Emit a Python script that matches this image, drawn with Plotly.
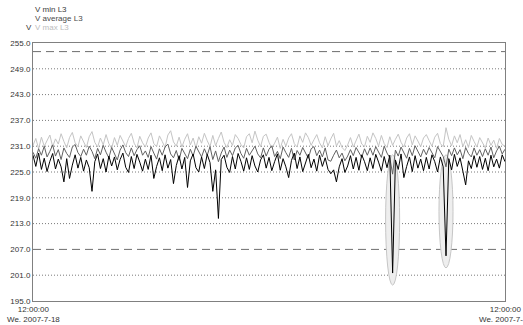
import pandas as pd
import plotly.graph_objects as go

# ---------------- data ----------------
start_time = "2007-07-18 12:00:00"
n_hours = 169
times = pd.date_range(start_time, periods=n_hours, freq="h")

v_max = [
    231.2, 232.8, 230.4, 233.1, 231.0, 232.5, 233.6, 230.9, 232.7, 231.5, 233.9, 232.1, 230.6, 233.0, 234.2, 231.8, 230.9, 233.4, 232.0, 230.7,
    233.2, 234.4, 231.9, 230.8, 232.9, 231.3, 233.7, 231.6, 230.5, 233.0, 231.2, 233.5, 232.2, 230.9, 232.8, 234.0, 231.7, 230.6, 233.3, 231.8,
    230.8, 232.9, 234.1, 231.6, 230.9, 233.4, 232.1, 230.7, 233.6, 234.6, 232.0, 231.0, 233.1, 230.8, 232.6, 233.9, 231.3, 232.9, 230.6, 233.2,
    231.7, 234.0, 232.3, 230.9, 233.5, 231.1, 232.8, 234.3, 231.9, 230.7, 232.5, 231.2, 233.7, 232.8, 231.4, 230.6, 233.2, 233.9, 231.8, 234.5,
    232.4, 230.9, 233.3, 233.8, 231.9, 230.6, 231.7, 233.1, 230.5, 232.6, 231.0, 232.9, 233.9, 231.6, 230.8, 233.4, 231.9, 234.1, 233.0, 231.2,
    232.5, 233.7, 231.8, 230.6, 233.2, 231.1, 232.7, 234.0, 231.0, 232.3, 230.7, 230.0, 231.3, 233.0, 230.8, 232.4, 233.8, 231.5, 230.9, 233.3,
    231.9, 234.1, 232.8, 231.0, 233.5, 231.6, 230.7, 233.2, 231.2, 232.6, 233.8, 231.9, 230.8, 232.9, 233.9, 231.3, 233.4, 232.2, 230.9, 232.9,
    233.7, 232.3, 231.0, 233.1, 234.0, 231.6, 230.9, 235.3, 232.6, 231.1, 233.4, 231.8, 233.7, 230.9, 232.5, 230.7, 233.5, 232.1, 230.8, 233.0,
    231.6, 230.6, 232.9, 231.2, 232.4, 230.5, 232.8, 231.4, 231.0,
]

v_avg = [
    229.6, 228.2, 230.4, 228.9, 231.0, 228.5, 229.8, 231.3, 228.7, 230.2, 227.9, 230.6, 229.3, 228.4, 230.8, 231.4, 229.5, 228.6, 230.3, 228.9,
    231.0, 229.8, 228.1, 230.5, 229.0, 231.2, 229.6, 228.3, 230.7, 229.2, 227.8, 230.1, 231.3, 229.5, 228.6, 230.6, 228.8, 230.2, 231.1, 228.9,
    229.9, 228.4, 230.9, 229.4, 228.0, 230.4, 228.9, 230.8, 231.5, 229.2, 228.3, 230.0, 227.7, 230.5, 229.3, 228.1, 230.3, 228.7, 231.0, 229.6,
    228.5, 230.4, 228.9, 230.9, 227.9, 229.9, 227.4, 229.4, 230.8, 228.4, 230.1, 228.8, 230.6, 231.2, 229.3, 228.2, 230.5, 228.9, 230.0, 231.0,
    229.2, 228.3, 230.6, 228.7, 230.3, 231.1, 228.6, 229.8, 228.1, 230.8, 229.5, 228.4, 230.5, 227.8, 230.0, 228.9, 230.7, 229.3, 228.2, 230.4,
    230.9, 228.8, 230.1, 228.5, 230.6, 227.8, 227.5, 228.9, 230.1, 228.3, 229.4, 227.6, 228.7, 230.2, 228.8, 230.7, 229.7, 228.4, 230.4, 228.9,
    230.6, 228.9, 230.9, 229.8, 228.4, 231.0, 229.4, 228.3, 224.5, 230.1, 228.7, 230.8, 229.6, 228.2, 230.5, 228.8, 231.1, 229.7, 228.5, 230.3,
    229.0, 230.7, 229.3, 228.3, 230.9, 229.8, 228.6, 226.2, 230.3, 228.8, 230.6, 229.0, 230.2, 228.1, 230.7, 229.3, 228.5, 230.6, 228.9, 230.2,
    228.6, 230.4, 228.9, 230.8, 228.3, 229.9, 231.0, 229.2, 230.3,
]

v_min = [
    228.9, 226.3, 229.4, 225.6, 228.2, 225.1, 227.5, 229.3, 225.7, 228.0, 226.2, 222.7, 228.1, 223.5, 226.6, 229.0, 225.9, 228.4, 225.2, 227.8,
    226.0, 220.5, 227.4, 229.2, 225.8, 228.1, 225.0, 228.7, 226.4, 228.5, 225.5, 227.9, 229.4, 226.1, 224.9, 228.6, 225.8, 229.1, 227.3, 225.2,
    228.0, 225.6, 228.9, 223.5, 226.3, 228.3, 225.3, 229.0, 225.9, 227.9, 222.3, 226.5, 228.8, 225.7, 228.4, 221.4, 227.6, 229.2, 226.0, 225.0,
    228.5, 225.8, 229.1, 227.2, 220.5, 225.5, 214.2, 227.9, 228.9, 226.1, 224.9, 228.6, 225.7, 229.3, 227.5, 225.2, 228.3, 225.6, 228.8, 226.4,
    225.0, 227.8, 229.0, 225.9, 228.4, 225.3, 227.4, 229.2, 225.4, 228.1, 226.2, 223.7, 227.7, 229.4, 225.8, 228.5, 225.1, 227.3, 229.1, 226.0,
    228.0, 225.2, 228.9, 226.3, 228.3, 225.6, 224.6, 225.5, 222.7, 226.2, 228.1, 224.9, 226.4, 228.8, 225.7, 228.4, 225.4, 229.0, 227.4, 225.3,
    228.3, 225.8, 229.1, 227.3, 225.2, 228.6, 226.0, 228.9, 201.5, 227.8, 225.6, 229.2, 223.7, 226.3, 228.5, 225.1, 228.8, 225.9, 228.0, 225.3,
    228.4, 225.7, 229.0, 227.4, 225.0, 228.5, 226.2, 205.5, 228.1, 225.5, 229.1, 226.3, 228.3, 225.2, 222.0, 227.6, 225.8, 228.8, 226.1, 228.6,
    225.6, 228.2, 225.3, 228.9, 226.2, 228.0, 225.9, 229.0, 227.4,
]

y_ticks = [195, 201, 207, 213, 219, 225, 231, 237, 243, 249, 255]
limit_lines = [253, 207]              # nominal 230 V +/- 10 %
x_tick_text = ["12:00:00<br>We. 2007-7-18", "12:00:00<br>We. 2007-7-25"]
dip_hours = [128, 147]                # highlighted events (indices into times)
dip_top = 229.0
legend_names = ["V min L3", "V average L3", "V max L3"]

# ---------------- figure ----------------
W, H = 523, 325
ML, MR, MT, MB = 33, 18, 43, 24
PW, PH = W - ML - MR, H - MT - MB
FONT = "Liberation Sans, Arial, sans-serif"

fig = go.Figure()
fig.add_trace(go.Scatter(x=times, y=v_max, mode="lines", name=legend_names[2],
                         line=dict(color="#c4c4c4", width=1)))
fig.add_trace(go.Scatter(x=times, y=v_avg, mode="lines", name=legend_names[1],
                         line=dict(color="#616161", width=1)))
fig.add_trace(go.Scatter(x=times, y=v_min, mode="lines", name=legend_names[0],
                         line=dict(color="#000000", width=1)))

shapes = []
# highlight ellipses around the deep dips
for h in dip_hours:
    t0 = times[h] - pd.Timedelta(hours=2.5)
    t1 = times[h] + pd.Timedelta(hours=2.5)
    shapes.append(dict(type="circle", xref="x", yref="y", x0=t0, x1=t1,
                       y0=v_min[h] - 2.8, y1=dip_top, layer="below",
                       fillcolor="#eeeeee", line=dict(color="#c6c6c6", width=1)))
# dotted grid
for v in y_ticks:
    if v in (y_ticks[0], y_ticks[-1]) or v in limit_lines:
        continue
    shapes.append(dict(type="line", xref="paper", yref="y", x0=0, x1=1, y0=v, y1=v,
                       layer="below", line=dict(color="#7a7a7a", width=1, dash="1px,2px")))
# dashed limit lines
for v in limit_lines:
    shapes.append(dict(type="line", xref="paper", yref="y", x0=0, x1=1, y0=v, y1=v,
                       layer="below", line=dict(color="#6e6e6e", width=1, dash="8px,5px")))


def px_to_paper_y(py):
    return 1 - (py - MT) / PH


def px_to_paper_x(px):
    return (px - ML) / PW


annotations = []
leg_rows = [(legend_names[0], "#3a3a3a", 9.5), (legend_names[1], "#4a4a4a", 18.5), (legend_names[2], "#bdbdbd", 28)]
for text, col, py in leg_rows:
    annotations.append(dict(text=text, xref="paper", yref="paper", x=px_to_paper_x(ML),
                            y=px_to_paper_y(py), xanchor="left", yanchor="middle",
                            showarrow=False, font=dict(family=FONT, size=8, color=col)))
annotations.append(dict(text="V", xref="paper", yref="paper", x=px_to_paper_x(24),
                        y=px_to_paper_y(28), xanchor="left", yanchor="middle",
                        showarrow=False, font=dict(family=FONT, size=8, color="#3a3a3a")))
# x-axis end labels
for xp, text in zip([0, 1], x_tick_text):
    annotations.append(dict(text=text, xref="paper", yref="paper", x=xp,
                            y=px_to_paper_y(H - MB + 2), xanchor="center", yanchor="top",
                            showarrow=False, align="center",
                            font=dict(family=FONT, size=8, color="#333333")))

fig.update_layout(
    width=W, height=H,
    margin=dict(l=ML, r=MR, t=MT, b=MB, pad=0),
    paper_bgcolor="white", plot_bgcolor="white",
    showlegend=False,
    font=dict(family=FONT, size=8, color="#333333"),
    shapes=shapes, annotations=annotations,
    xaxis=dict(range=[times[0], times[-1]], showticklabels=False, showgrid=False,
               zeroline=False, showline=True, mirror=True, linecolor="#808080",
               linewidth=1, ticks="", automargin=False),
    yaxis=dict(range=[y_ticks[0], y_ticks[-1]], tickvals=y_ticks, tickformat=".1f",
               showgrid=False, zeroline=False, showline=True, mirror=True,
               linecolor="#808080", linewidth=1, ticks="", automargin=False,
               tickfont=dict(size=8, color="#333333")),
)

fig.write_html("out.html", config={"displayModeBar": False},
               post_script="document.body.style.margin='0';")
